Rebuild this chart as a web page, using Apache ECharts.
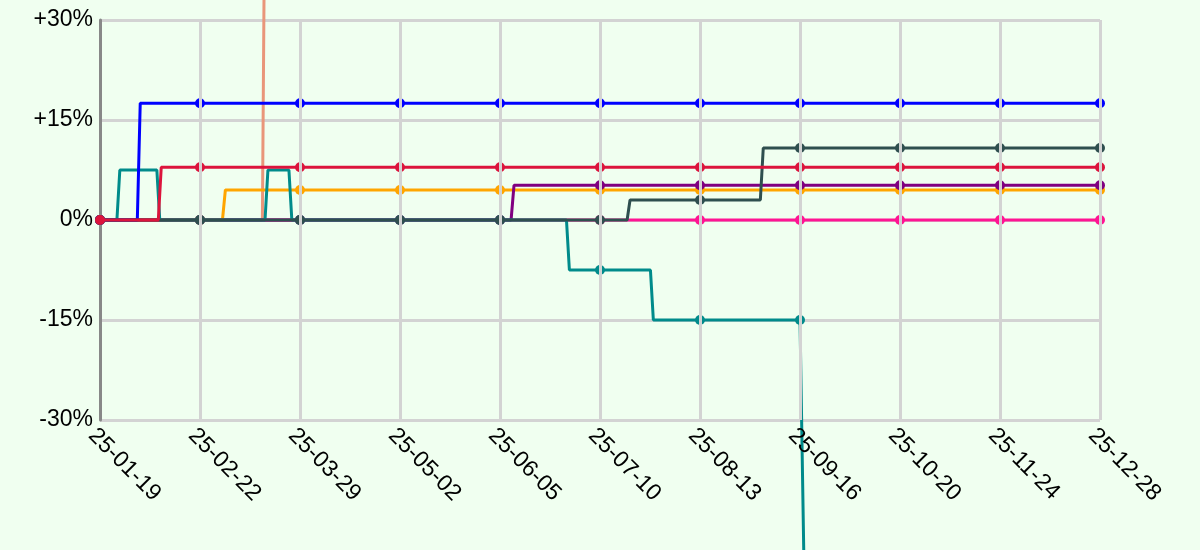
<!DOCTYPE html>
<html>
<head>
<meta charset="utf-8">
<script src="https://cdn.jsdelivr.net/npm/echarts@6/dist/echarts.min.js"></script>
<style>
html,body{margin:0;padding:0;background:#f0fff0;}
#chart{width:1200px;height:550px;}
</style>
</head>
<body>
<div id="chart"></div>
<script>
// x values are day offsets from 2025-01-19; y values are percent
const startDate = Date.UTC(2025, 0, 19);
const tickDays = [0, 34.3, 68.6, 102.9, 137.2, 171.5, 205.8, 240.1, 274.4, 308.7, 343];
const yTicks = [-30, -15, 0, 15, 30];

// values at each tick date (marker points)
const salmonAtTicks  = [0, 0, 60, 60, 60, 60, 60, 60, 60, 60, 60];
const pinkAtTicks    = [0, 0, 0, 0, 0, 0, 0, 0, 0, 0, 0];
const orangeAtTicks  = [0, 0, 4.5, 4.5, 4.5, 4.5, 4.5, 4.5, 4.5, 4.5, 4.5];
const purpleAtTicks  = [0, 0, 0, 0, 0, 5.2, 5.2, 5.2, 5.2, 5.2, 5.2];
const tealAtTicks    = [0, 0, 0, 0, 0, -7.5, -15, -15, -58, -58, -58];
const blueAtTicks    = [0, 17.5, 17.5, 17.5, 17.5, 17.5, 17.5, 17.5, 17.5, 17.5, 17.5];
const slateAtTicks   = [0, 0, 0, 0, 0, 0, 3, 10.8, 10.8, 10.8, 10.8];
const crimsonAtTicks = [0, 7.9, 7.9, 7.9, 7.9, 7.9, 7.9, 7.9, 7.9, 7.9, 7.9];

// change points between tick dates [day, value]
const salmonSteps  = [[55.7, 0], [56.7, 60]];
const pinkSteps    = [];
const orangeSteps  = [[42, 0], [43, 4.5]];
const purpleSteps  = [[141, 0], [142, 5.2]];
const tealSteps    = [[5.8, 0], [6.8, 7.5], [19.5, 7.5], [20.5, 0], [56.6, 0], [57.6, 7.5], [64.8, 7.5], [65.8, 0],
                      [160, 0], [161, -7.5], [188.8, -7.5], [189.8, -15], [240.7, -15], [241.7, -58]];
const blueSteps    = [[12.8, 0], [13.8, 17.5]];
const slateSteps   = [[180.8, 0], [181.8, 3], [226.5, 3], [227.5, 10.8]];
const crimsonSteps = [[20, 0], [21, 7.9]];

const seriesDefs = [
  {name: 'salmon',  color: '#e9967a', ticks: salmonAtTicks,  steps: salmonSteps},
  {name: 'pink',    color: '#ff1493', ticks: pinkAtTicks,    steps: pinkSteps},
  {name: 'orange',  color: '#ffa500', ticks: orangeAtTicks,  steps: orangeSteps},
  {name: 'purple',  color: '#800080', ticks: purpleAtTicks,  steps: purpleSteps},
  {name: 'teal',    color: '#008b8b', ticks: tealAtTicks,    steps: tealSteps},
  {name: 'blue',    color: '#0000ff', ticks: blueAtTicks,    steps: blueSteps},
  {name: 'slate',   color: '#2f4f4f', ticks: slateAtTicks,   steps: slateSteps},
  {name: 'crimson', color: '#dc143c', ticks: crimsonAtTicks, steps: crimsonSteps}
];

function pad(n){ return (n < 10 ? '0' : '') + n; }
function dayLabel(v){
  const d = new Date(startDate + Math.round(v) * 86400000);
  return pad(d.getUTCFullYear() % 100) + '-' + pad(d.getUTCMonth() + 1) + '-' + pad(d.getUTCDate());
}

const FONT = 'Liberation Sans';
const series = seriesDefs.map(function(s, i){
  const pts = [];
  tickDays.forEach(function(d, k){ pts.push({value: [d, s.ticks[k]], symbol: 'circle'}); });
  s.steps.forEach(function(p){ pts.push({value: [p[0], p[1]], symbol: 'none'}); });
  pts.sort(function(a, b){ return a.value[0] - b.value[0]; });
  return {
    name: s.name,
    type: 'line',
    data: pts,
    clip: false,
    z: 2 + i * 0.01,
    symbolSize: 10,
    showSymbol: true,
    lineStyle: {color: s.color, width: 3},
    itemStyle: {color: s.color},
    emphasis: {disabled: true},
    animation: false
  };
});

const chart = echarts.init(document.getElementById('chart'));
chart.setOption({
  backgroundColor: '#f0fff0',
  animation: false,
  grid: {left: 100, right: 100, top: 20, bottom: 130, containLabel: false},
  xAxis: {
    type: 'value', min: 0, max: 343, interval: 34.3, z: 3,
    axisLine: {show: false},
    axisTick: {show: false},
    splitLine: {show: true, showMinLine: false, lineStyle: {color: '#d3d3d3', width: 3}},
    axisLabel: {rotate: -45, fontFamily: FONT, fontSize: 23, color: '#000', margin: 4,
      verticalAlign: 'top',
      formatter: function(v){ return dayLabel(v); }}
  },
  yAxis: {
    type: 'value', min: -30, max: 30, interval: 15, z: 0,
    axisLine: {show: true, lineStyle: {color: '#888888', width: 3}},
    axisTick: {show: false},
    splitLine: {show: true, lineStyle: {color: '#d3d3d3', width: 3}},
    axisLabel: {fontFamily: FONT, fontSize: 23, color: '#000', margin: 7,
      formatter: function(v){ return (v > 0 ? '+' : '') + v + '%'; }}
  },
  series: series
});
</script>
</body>
</html>
